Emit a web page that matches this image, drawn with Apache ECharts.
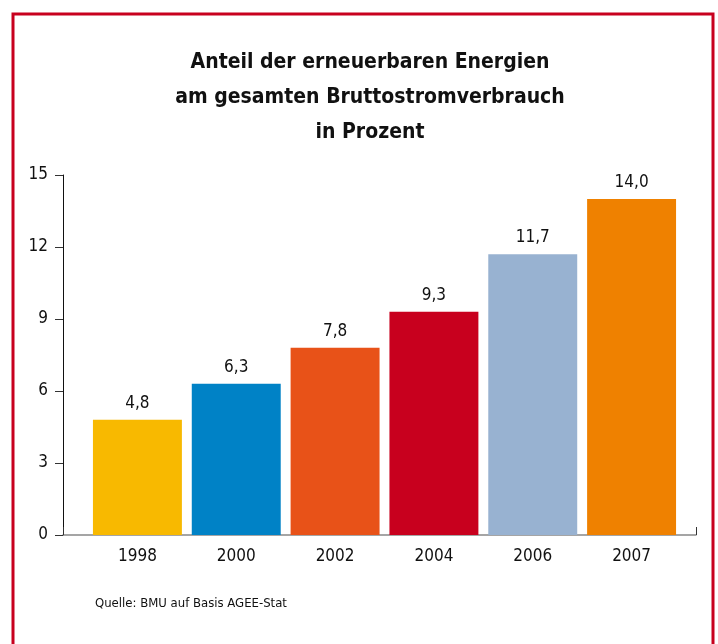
<!DOCTYPE html>
<html>
<head>
<meta charset="utf-8">
<script src="https://cdn.jsdelivr.net/npm/echarts@6/dist/echarts.min.js"></script>
<style>
  html, body { margin: 0; padding: 0; background: #fff; }
  #chart { width: 718px; height: 644px; }
</style>
</head>
<body>
<div id="chart"></div>
<script>
// data
const years = ["1998", "2000", "2002", "2004", "2006", "2007"];
const shares = [4.8, 6.3, 7.8, 9.3, 11.7, 14.0];
const barColors = ["#f8b900", "#0082c6", "#e85218", "#c8001e", "#98b2d1", "#ef8100"];
const yTicks = [0, 3, 6, 9, 12, 15];

const titleText = "Anteil der erneuerbaren Energien\nam gesamten Bruttostromverbrauch\nin Prozent";
const sourceText = "Quelle: BMU auf Basis AGEE-Stat";

const FONT = "'DejaVu Sans Condensed', 'Liberation Sans Narrow', sans-serif";

const chart = echarts.init(document.getElementById("chart"));

const option = {
  animation: false,
  backgroundColor: "#fff",
  title: {
    text: titleText,
    left: 365,
    textAlign: "center",
    top: 40,
    textStyle: {
      fontFamily: FONT,
      fontSize: 21,
      fontWeight: "bold",
      color: "#111",
      lineHeight: 35,
    },
  },
  graphic: [
    {
      type: "rect",
      shape: { x: 13, y: 14, width: 700, height: 700 },
      style: { fill: "none", stroke: "#c8001e", lineWidth: 3 },
      silent: true,
    },
    {
      type: "text",
      left: 95,
      top: 597,
      style: {
        text: sourceText,
        fontFamily: FONT,
        fontSize: 13,
        fill: "#111",
      },
    },
  ],
  grid: [
    { left: 88, right: 37, top: 175, bottom: 109 },
    { left: 63, right: 22, top: 175, bottom: 109 },
  ],
  xAxis: [
    {
      type: "category",
      gridIndex: 0,
      data: years,
      axisLine: { show: false },
      axisTick: { show: false },
      axisLabel: {
        fontFamily: FONT,
        fontSize: 17,
        color: "#111",
        margin: 13,
      },
    },
    {
      // plain baseline running to the right frame edge
      type: "value",
      gridIndex: 1,
      min: 0,
      max: 1,
      interval: 1,
      axisLine: { show: true, lineStyle: { color: "#888", width: 1.5 } },
      axisTick: { show: true, inside: true, length: 8, lineStyle: { color: "#333" } },
      axisLabel: { show: false },
      splitLine: { show: false },
    },
  ],
  yAxis: [
    {
      type: "value",
      gridIndex: 0,
      min: 0,
      max: 15,
      interval: 3,
      offset: 25,
      axisLine: { show: true, lineStyle: { color: "#111", width: 1 } },
      axisTick: { show: true, length: 8, lineStyle: { color: "#333" } },
      axisLabel: {
        fontFamily: FONT,
        fontSize: 17,
        color: "#111",
        margin: 15,
        formatter: (v) => (yTicks.includes(v) ? String(v) : ""),
      },
      splitLine: { show: false },
    },
    {
      type: "value",
      gridIndex: 1,
      min: 0,
      max: 15,
      show: false,
    },
  ],
  series: [
    {
      type: "bar",
      xAxisIndex: 0,
      yAxisIndex: 0,
      barCategoryGap: "10%",
      data: shares.map((v, i) => ({ value: v, itemStyle: { color: barColors[i] } })),
      label: {
        show: true,
        position: "top",
        distance: 8,
        fontFamily: FONT,
        fontSize: 17,
        color: "#111",
        formatter: (p) => p.value.toFixed(1).replace(".", ","),
      },
    },
  ],
};

chart.setOption(option);
</script>
</body>
</html>
